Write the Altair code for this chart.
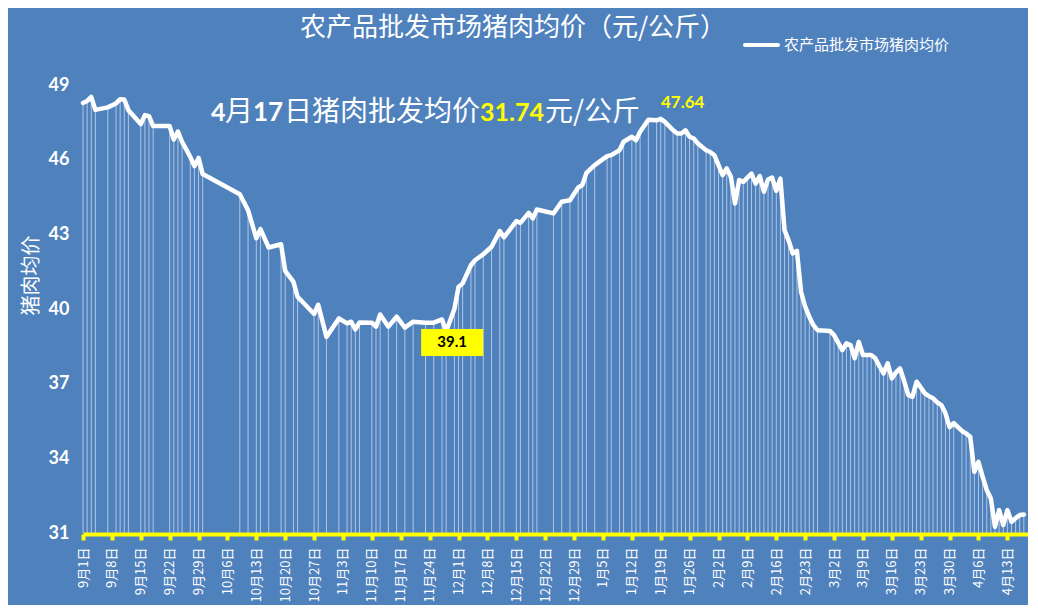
import altair as alt
import pandas as pd

# ---- data ----
dates = [
    "2020-09-01", "2020-09-02", "2020-09-03", "2020-09-04", "2020-09-07", "2020-09-09", "2020-09-10",
    "2020-09-11", "2020-09-12", "2020-09-15", "2020-09-16", "2020-09-17", "2020-09-18", "2020-09-22",
    "2020-09-23", "2020-09-24", "2020-09-25", "2020-09-27", "2020-09-28", "2020-09-29", "2020-09-30",
    "2020-10-09", "2020-10-11", "2020-10-13", "2020-10-14", "2020-10-16", "2020-10-19", "2020-10-20",
    "2020-10-22", "2020-10-23", "2020-10-27", "2020-10-28", "2020-10-30", "2020-11-02", "2020-11-04",
    "2020-11-05", "2020-11-06", "2020-11-07", "2020-11-10", "2020-11-11", "2020-11-12", "2020-11-14",
    "2020-11-16", "2020-11-18", "2020-11-20", "2020-11-23", "2020-11-25", "2020-11-27", "2020-11-28",
    "2020-11-30", "2020-12-01", "2020-12-02", "2020-12-04", "2020-12-05", "2020-12-07", "2020-12-09",
    "2020-12-11", "2020-12-12", "2020-12-15", "2020-12-16", "2020-12-18", "2020-12-19", "2020-12-20",
    "2020-12-24", "2020-12-26", "2020-12-28", "2020-12-30", "2020-12-31", "2021-01-01", "2021-01-03",
    "2021-01-06", "2021-01-07", "2021-01-09", "2021-01-10", "2021-01-12", "2021-01-13", "2021-01-14",
    "2021-01-16", "2021-01-18", "2021-01-19", "2021-01-20", "2021-01-22", "2021-01-23", "2021-01-24",
    "2021-01-25", "2021-01-26", "2021-01-27", "2021-01-28", "2021-01-30", "2021-01-31", "2021-02-01",
    "2021-02-02", "2021-02-03", "2021-02-04", "2021-02-05", "2021-02-06", "2021-02-07", "2021-02-08",
    "2021-02-09", "2021-02-10", "2021-02-11", "2021-02-12", "2021-02-13", "2021-02-14", "2021-02-15",
    "2021-02-16", "2021-02-17", "2021-02-18", "2021-02-19", "2021-02-20", "2021-02-21", "2021-02-22",
    "2021-02-23", "2021-02-24", "2021-02-25", "2021-02-26", "2021-03-01", "2021-03-02", "2021-03-03",
    "2021-03-04", "2021-03-05", "2021-03-06", "2021-03-07", "2021-03-08", "2021-03-09", "2021-03-10",
    "2021-03-11", "2021-03-12", "2021-03-13", "2021-03-14", "2021-03-15", "2021-03-16", "2021-03-17",
    "2021-03-18", "2021-03-19", "2021-03-20", "2021-03-21", "2021-03-22", "2021-03-23", "2021-03-24",
    "2021-03-25", "2021-03-26", "2021-03-27", "2021-03-28", "2021-03-29", "2021-03-30", "2021-03-31",
    "2021-04-02", "2021-04-03", "2021-04-04", "2021-04-05", "2021-04-06", "2021-04-07", "2021-04-08",
    "2021-04-09", "2021-04-10", "2021-04-11", "2021-04-12", "2021-04-13", "2021-04-14", "2021-04-15",
    "2021-04-16", "2021-04-17",
]
prices = [
    48.28, 48.36, 48.52, 48.00, 48.10, 48.26, 48.43,
    48.42, 47.99, 47.43, 47.79, 47.75, 47.35, 47.35,
    46.81, 47.13, 46.72, 46.11, 45.74, 46.07, 45.42,
    44.61, 43.97, 42.84, 43.21, 42.47, 42.60, 41.53,
    41.09, 40.49, 39.80, 40.17, 38.88, 39.62, 39.42,
    39.49, 39.18, 39.46, 39.45, 39.29, 39.78, 39.29,
    39.69, 39.25, 39.49, 39.45, 39.45, 39.58, 39.10,
    40.00, 40.89, 41.03, 41.76, 41.96, 42.20, 42.50,
    43.13, 42.88, 43.53, 43.46, 43.86, 43.64, 44.00,
    43.84, 44.31, 44.37, 44.88, 44.98, 45.47, 45.78,
    46.14, 46.18, 46.38, 46.72, 46.92, 46.78, 47.12,
    47.60, 47.58, 47.64, 47.52, 47.18, 47.05, 47.05,
    47.18, 46.92, 46.85, 46.65, 46.38, 46.31, 46.18,
    45.78, 45.38, 45.65, 45.31, 44.24, 45.18, 45.11,
    45.28, 45.44, 45.04, 45.34, 44.71, 45.20, 45.28,
    44.75, 45.24, 43.17, 42.75, 42.23, 42.34, 40.69,
    40.10, 39.69, 39.35, 39.15, 39.12, 38.95, 38.65,
    38.35, 38.62, 38.55, 38.02, 38.68, 38.15, 38.15,
    38.15, 38.02, 37.70, 37.41, 37.82, 37.21, 37.45,
    37.61, 37.10, 36.54, 36.47, 37.08, 36.85, 36.61,
    36.50, 36.41, 36.25, 36.14, 35.81, 35.25, 35.41,
    35.10, 35.00, 34.87, 33.46, 33.86, 33.26, 32.73,
    32.39, 31.25, 31.92, 31.32, 31.92, 31.45, 31.60,
    31.72, 31.74,
]

tick_dates = [
    "2020-09-01", "2020-09-08", "2020-09-15", "2020-09-22", "2020-09-29", "2020-10-06",
    "2020-10-13", "2020-10-20", "2020-10-27", "2020-11-03", "2020-11-10", "2020-11-17",
    "2020-11-24", "2020-12-01", "2020-12-08", "2020-12-15", "2020-12-22", "2020-12-29",
    "2021-01-05", "2021-01-12", "2021-01-19", "2021-01-26", "2021-02-02", "2021-02-09",
    "2021-02-16", "2021-02-23", "2021-03-02", "2021-03-09", "2021-03-16", "2021-03-23",
    "2021-03-30", "2021-04-06", "2021-04-13",
]
y_ticks = [31, 34, 37, 40, 43, 46, 49]

ann_dates = ["2020-11-28", "2021-01-19"]
ann_values = [39.1, 47.64]
ann_texts = ["39.1", "47.64"]

title_text = "农产品批发市场猪肉均价（元/公斤）"
series_name = "农产品批发市场猪肉均价"
y_title = "猪肉均价"
sub_parts = ["4", "月", "17", "日猪肉批发均价", "31.74", "元/公斤"]

# ---- styling ----
BG = "#4F81BD"
YELLOW = "#FFFF00"
CJK = "Noto Sans CJK SC"
NUM = "Lato"
W, H = 945, 448
PAD_L, PAD_T = 75, 77


def dt(s):
    return alt.DateTime(year=int(s[:4]), month=int(s[5:7]), date=int(s[8:10]))


df = pd.DataFrame({"date": pd.to_datetime(dates), "price": prices})
ann = pd.DataFrame({"date": pd.to_datetime(ann_dates), "price": ann_values, "label": ann_texts})

x_scale = alt.Scale(domain=[dt("2020-09-01"), dt("2021-04-18")], nice=False)
y_scale = alt.Scale(domain=[31, 49], nice=False, zero=False)

x_axis = alt.Axis(
    values=[dt(s) for s in tick_dates],
    labelExpr="(month(datum.value)+1) + '月' + date(datum.value) + '日'",
    labelAngle=270,
    labelColor="white",
    labelFont=CJK,
    labelFontSize=13,
    labelPadding=7,
    labelOverlap=False,
    labelFlush=False,
    labelBound=False,
    domainColor=YELLOW,
    domainWidth=4,
    tickColor=YELLOW,
    tickWidth=4,
    tickSize=6,
    offset=1,
    grid=False,
    title=None,
)
y_axis = alt.Axis(
    values=y_ticks,
    labelColor="white",
    labelFont=NUM,
    labelFontSize=18,
    labelFontWeight="bold",
    labelPadding=14,
    domain=False,
    ticks=False,
    grid=False,
    title=y_title,
    titleColor="white",
    titleFont=CJK,
    titleFontSize=20,
    titleFontWeight="normal",
    titleAngle=270,
    titleX=-52,
    titleY=190,
    titleAlign="center",
    titleBaseline="middle",
)

X = alt.X("date:T", scale=x_scale, axis=x_axis)
Y = alt.Y("price:Q", scale=y_scale, axis=y_axis)

base = alt.Chart(df)

drops = base.mark_rule(color="white", strokeWidth=1, opacity=0.55).encode(
    x=X, y=Y, y2=alt.datum(31)
)
line = base.mark_line(color="white", strokeWidth=4.5, strokeJoin="round", strokeCap="round").encode(
    x=X, y=Y
)

ann_min = alt.Chart(ann.iloc[[0]])
box = ann_min.mark_rect(color=YELLOW, width=62, height=27, xOffset=6, yOffset=11).encode(x=X, y=Y)
box_text = ann_min.mark_text(
    color="black", font=NUM, fontSize=15, fontWeight="bold", dx=6, dy=11, baseline="middle"
).encode(x=X, y=Y, text="label:N")

peak_text = alt.Chart(ann.iloc[[1]]).mark_text(
    color=YELLOW, font=NUM, fontSize=17, fontWeight="bold", dx=22, dy=-16, baseline="middle"
).encode(x=X, y=Y, text="label:N")

# subtitle pieces (page px -> plot px)
sub_x = [211, 225, 253, 284, 480, 545]
sub_font = [NUM, CJK, NUM, CJK, NUM, CJK]
sub_weight = ["bold", "normal", "bold", "normal", "bold", "normal"]
sub_size = [25, 28, 26, 28, 25, 28]
sub_color = ["white", "white", "white", "white", YELLOW, "white"]
sub_layers = []
for t, xp, f, wgt, sz, c in zip(sub_parts, sub_x, sub_font, sub_weight, sub_size, sub_color):
    sub_layers.append(
        alt.Chart(pd.DataFrame({"t": [t]})).mark_text(
            align="left", baseline="middle", font=f, fontWeight=wgt, fontSize=sz, color=c
        ).encode(x=alt.value(xp - 83), y=alt.value(113 - 85), text="t:N")
    )

title = alt.Chart(pd.DataFrame({"t": [title_text]})).mark_text(
    align="center", baseline="middle", font=CJK, fontSize=26, color="white"
).encode(x=alt.value(513 - 83), y=alt.value(28 - 85), text="t:N")

legend_line = alt.Chart(pd.DataFrame({"t": [series_name]})).mark_rule(
    color="white", strokeWidth=4, strokeCap="round"
).encode(x=alt.value(745 - 83), x2=alt.value(778 - 83), y=alt.value(45 - 85))
legend_text = alt.Chart(pd.DataFrame({"t": [series_name]})).mark_text(
    align="left", baseline="middle", font=CJK, fontSize=15, color="white"
).encode(x=alt.value(784 - 83), y=alt.value(45 - 85), text="t:N")

chart = alt.layer(
    drops, line, box, box_text, peak_text, *sub_layers, title, legend_line, legend_text
).properties(
    width=W,
    height=H,
    background=BG,
    padding={"left": PAD_L, "top": PAD_T, "right": 0, "bottom": 72},
    autosize=alt.AutoSizeParams(type="none"),
).configure_view(strokeWidth=0)

chart.save("out.html", embed_options={"renderer": "svg", "actions": False})
